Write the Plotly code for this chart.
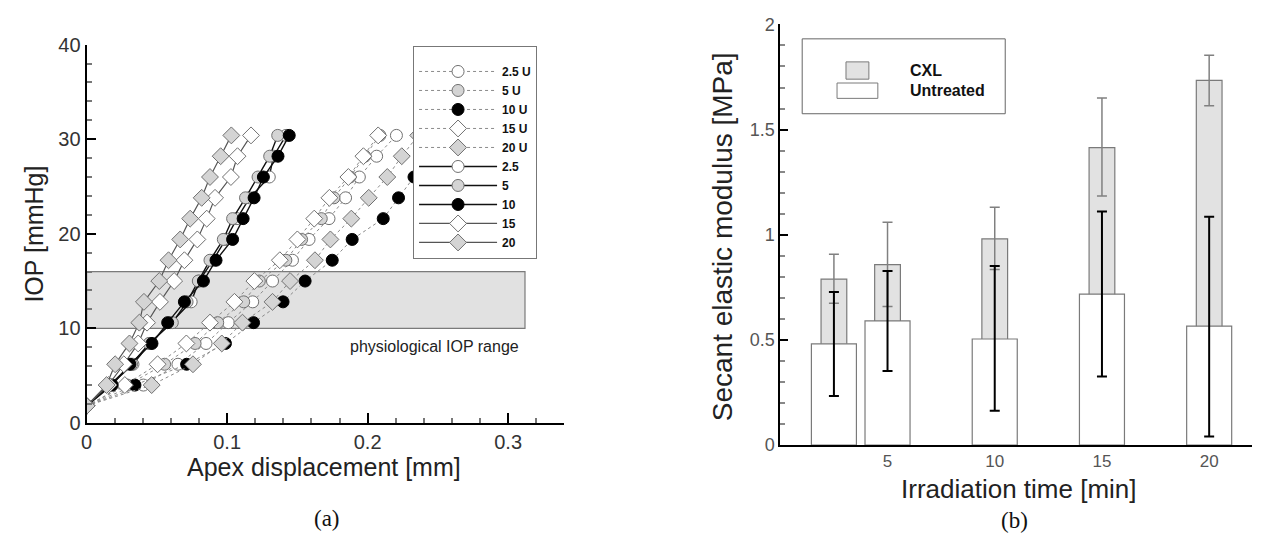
import plotly.graph_objects as go

# ---------------- data: panel (a) ----------------
iop_levels = [1.8, 4.0, 6.2, 8.4, 10.6, 12.8, 15.0, 17.2, 19.4, 21.6, 23.8, 26.0, 28.2, 30.4]

# untreated (dotted) series: apex displacement [mm]
disp_u25 = [0, 0.0404, 0.0650, 0.0850, 0.1008, 0.1182, 0.1323, 0.1465, 0.1583, 0.1725, 0.1843, 0.1941, 0.2064, 0.2205]
disp_u5 = [0, 0.0290, 0.0555, 0.0772, 0.0933, 0.1118, 0.1229, 0.1418, 0.1530, 0.1670, 0.1760, 0.1875, 0.1980, 0.2087]
disp_u10 = [0, 0.0344, 0.0712, 0.0988, 0.1188, 0.1398, 0.1555, 0.1748, 0.1890, 0.2111, 0.2220, 0.2330, 0.2440, 0.2550]
disp_u15 = [0, 0.0272, 0.0505, 0.0710, 0.0878, 0.1052, 0.1194, 0.1375, 0.1500, 0.1620, 0.1728, 0.1863, 0.1970, 0.2075]
disp_u20 = [0, 0.0463, 0.0757, 0.0962, 0.1109, 0.1323, 0.1448, 0.1625, 0.1735, 0.1884, 0.2008, 0.2140, 0.2243, 0.2360]

# treated (solid) series
disp_25 = [0, 0.0170, 0.0330, 0.0450, 0.0600, 0.0744, 0.0800, 0.0900, 0.0990, 0.1070, 0.1160, 0.1300, 0.1330, 0.1420]
disp_5 = [0, 0.0165, 0.0320, 0.0445, 0.0610, 0.0715, 0.0795, 0.0878, 0.0973, 0.1039, 0.1131, 0.1220, 0.1303, 0.1360]
disp_10 = [0, 0.0182, 0.0308, 0.0465, 0.0577, 0.0696, 0.0831, 0.0921, 0.1039, 0.1114, 0.1192, 0.1258, 0.1362, 0.1442]
disp_15 = [0, 0.0155, 0.0265, 0.0367, 0.0430, 0.0522, 0.0623, 0.0696, 0.0788, 0.0855, 0.0914, 0.1027, 0.1074, 0.1170]
disp_20 = [0, 0.0142, 0.0203, 0.0305, 0.0375, 0.0408, 0.0517, 0.0583, 0.0666, 0.0737, 0.0819, 0.0878, 0.0954, 0.1030]

physio_range = [10, 16]

# ---------------- data: panel (b) ----------------
irr_time = [2.5, 5, 10, 15, 20]
cxl_mean = [0.789, 0.858, 0.980, 1.414, 1.734]
cxl_upper = [0.907, 1.059, 1.131, 1.650, 1.854]
cxl_lower = [0.674, 0.659, 0.834, 1.184, 1.613]
untr_mean = [0.481, 0.590, 0.504, 0.717, 0.565]
untr_upper = [0.727, 0.828, 0.851, 1.110, 1.085]
untr_lower = [0.233, 0.352, 0.163, 0.326, 0.040]

W, H = 1264, 552
def px(x):
    return x / W
def py(y):
    return 1 - y / H

FONT = "Liberation Sans, Arial, sans-serif"
SERIF = "Liberation Serif, Times New Roman, serif"

fig = go.Figure()

WHITE, GRAY, BLACK = "#ffffff", "#d4d4d4", "#000000"
series = [
    ("2.5 U", disp_u25, "circle", WHITE, "dot"),
    ("5 U", disp_u5, "circle", GRAY, "dot"),
    ("10 U", disp_u10, "circle", BLACK, "dot"),
    ("15 U", disp_u15, "diamond", WHITE, "dot"),
    ("20 U", disp_u20, "diamond", GRAY, "dot"),
    ("2.5", disp_25, "circle", WHITE, "solid"),
    ("5", disp_5, "circle", GRAY, "solid"),
    ("10", disp_10, "circle", BLACK, "solid"),
    ("15", disp_15, "diamond", WHITE, "solid"),
    ("20", disp_20, "diamond", GRAY, "solid"),
]
for name, xs, sym, col, dash in series:
    if dash == "dot":
        line = dict(color="#8a8a8a", width=1, dash="dot")
    else:
        if sym == "circle":
            line = dict(color="#111111", width=1.4)
        else:
            line = dict(color="#555555", width=1.2)
    fig.add_trace(go.Scatter(
        x=xs, y=iop_levels, name=f"<b>{name}</b>", mode="lines+markers",
        line=line,
        marker=dict(symbol=sym, size=12 if sym == "circle" else 13, color=col,
                    line=dict(color="#000000" if col == BLACK else "#707070", width=1)),
        xaxis="x", yaxis="y", legend="legend",
    ))

# ---------------- panel (b) bars ----------------
fig.add_trace(go.Bar(
    x=irr_time, y=cxl_mean, width=1.2, name="CXL",
    marker=dict(color="#e2e2e2", line=dict(color="#7a7a7a", width=1.2)),
    error_y=dict(type="data", symmetric=False,
                 array=[u - m for u, m in zip(cxl_upper, cxl_mean)],
                 arrayminus=[m - l for m, l in zip(cxl_mean, cxl_lower)],
                 color="#808080", thickness=1.5, width=5),
    xaxis="x2", yaxis="y2", showlegend=False,
))
fig.add_trace(go.Bar(
    x=irr_time, y=untr_mean, width=2.1, name="Untreated",
    marker=dict(color="#ffffff", line=dict(color="#7a7a7a", width=1.2)),
    error_y=dict(type="data", symmetric=False,
                 array=[u - m for u, m in zip(untr_upper, untr_mean)],
                 arrayminus=[m - l for m, l in zip(untr_mean, untr_lower)],
                 color="#000000", thickness=2, width=5),
    xaxis="x2", yaxis="y2", showlegend=False,
))

axis_common = dict(showgrid=False, zeroline=False, showline=True, linecolor="black",
                   linewidth=2, ticks="inside", tickcolor="black",
                   tickfont=dict(family=FONT, size=20, color="#333333"))

shapes = [
    # physiological IOP band
    dict(type="rect", xref="x", yref="y", x0=0, x1=0.312, y0=physio_range[0], y1=physio_range[1],
         fillcolor="#e1e1e1", line=dict(color="#7a7a7a", width=1.2), layer="below"),
    # manual legend for panel (b)
    dict(type="rect", xref="paper", yref="paper", x0=px(800), x1=px(1004), y0=py(107), y1=py(29),
         fillcolor="white", line=dict(color="#666666", width=1)),
    dict(type="rect", xref="paper", yref="paper", x0=px(844), x1=px(867), y0=py(71), y1=py(53),
         fillcolor="#e2e2e2", line=dict(color="#7a7a7a", width=1)),
    dict(type="rect", xref="paper", yref="paper", x0=px(835), x1=px(876), y0=py(91), y1=py(75),
         fillcolor="#ffffff", line=dict(color="#7a7a7a", width=1)),
]

annotations = [
    dict(text="physiological IOP range", xref="paper", yref="paper", x=px(517), y=py(349),
         xanchor="right", yanchor="middle", showarrow=False,
         font=dict(family=FONT, size=16, color="#222222")),
    dict(text="IOP [mmHg]", xref="paper", yref="paper", x=px(28), y=py(232), textangle=-90,
         xanchor="center", yanchor="middle", showarrow=False,
         font=dict(family=FONT, size=25, color="#222222")),
    dict(text="Apex displacement [mm]", xref="paper", yref="paper", x=px(320), y=py(475),
         xanchor="center", yanchor="middle", showarrow=False,
         font=dict(family=FONT, size=25, color="#222222")),
    dict(text="Secant elastic modulus [MPa]", xref="paper", yref="paper", x=px(720), y=py(235),
         textangle=-90, xanchor="center", yanchor="middle", showarrow=False,
         font=dict(family=FONT, size=28, color="#222222")),
    dict(text="Irradiation time [min]", xref="paper", yref="paper", x=px(1018), y=py(498),
         xanchor="center", yanchor="middle", showarrow=False,
         font=dict(family=FONT, size=26, color="#222222")),
    dict(text="(a)", xref="paper", yref="paper", x=px(323), y=py(529),
         xanchor="center", yanchor="middle", showarrow=False,
         font=dict(family=SERIF, size=23, color="#111111")),
    dict(text="(b)", xref="paper", yref="paper", x=px(1013), y=py(531),
         xanchor="center", yanchor="middle", showarrow=False,
         font=dict(family=SERIF, size=23, color="#111111")),
    dict(text="<b>CXL</b>", xref="paper", yref="paper", x=px(906), y=py(62),
         xanchor="left", yanchor="middle", showarrow=False,
         font=dict(family=FONT, size=16, color="#111111")),
    dict(text="<b>Untreated</b>", xref="paper", yref="paper", x=px(906), y=py(83),
         xanchor="left", yanchor="middle", showarrow=False,
         font=dict(family=FONT, size=16, color="#111111")),
]

fig.update_layout(
    width=W, height=H,
    margin=dict(l=0, r=0, t=0, b=0),
    paper_bgcolor="white", plot_bgcolor="white",
    barmode="overlay",
    font=dict(family=FONT),
    xaxis=dict(axis_common, domain=[px(81), px(561)], range=[0, 0.34],
               tickvals=[0, 0.1, 0.2, 0.3], ticktext=["0", "0.1", "0.2", "0.3"],
               ticklen=10, tickwidth=1.5, anchor="y",
               minor=dict(ticks="inside", dtick=0.02, ticklen=5, tickcolor="#777777", showgrid=False)),
    yaxis=dict(axis_common, domain=[py(429), py(35)], range=[0, 40], dtick=10,
               ticklen=9, tickwidth=1.5, anchor="x",
               minor=dict(ticks="inside", dtick=2, ticklen=5, tickcolor="#777777", showgrid=False)),
    xaxis2=dict(axis_common, domain=[px(778), px(1252)], range=[0, 22],
                tickvals=[5, 10, 15, 20], ticks="", anchor="y2",
                tickfont=dict(family=FONT, size=17, color="#555555")),
    yaxis2=dict(axis_common, domain=[py(452), py(14)], range=[0, 2], dtick=0.5,
                ticklen=8, tickwidth=2, anchor="x2",
                tickfont=dict(family=FONT, size=18, color="#555555"),
                minor=dict(ticks="inside", dtick=0.1, ticklen=5, tickcolor="#888888", showgrid=False)),
    legend=dict(x=px(409), y=py(36), xanchor="left", yanchor="top",
                bgcolor="white", bordercolor="#777777", borderwidth=1,
                itemwidth=78, tracegroupgap=0,
                title=dict(text=" ", font=dict(size=8)),
                font=dict(family=FONT, size=12, color="#111111")),
    shapes=shapes,
    annotations=annotations,
)

fig.write_html("out.html", config={"displayModeBar": False},
               post_script="document.body.style.margin='0';document.body.style.padding='0';")
